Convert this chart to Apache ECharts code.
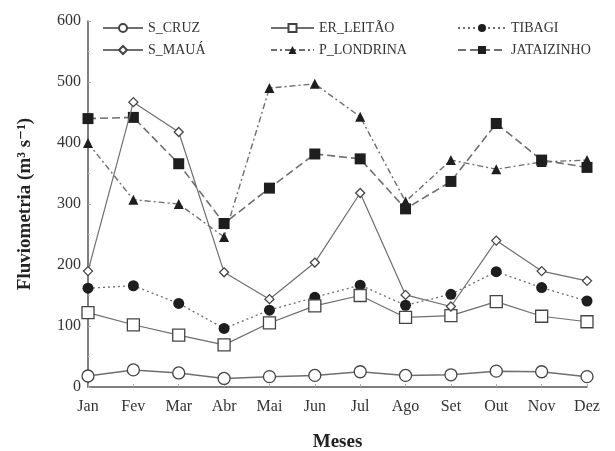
<!DOCTYPE html>
<html>
<head>
<meta charset="utf-8">
<script src="https://cdn.jsdelivr.net/npm/echarts@6/dist/echarts.min.js"></script>
<style>
  html, body { margin: 0; padding: 0; background: #fff; }
  #chart { width: 615px; height: 451px; }
</style>
</head>
<body>
<div id="chart"></div>
<script>
// Monthly mean discharge (m³/s) at six gauging stations
const months = ['Jan', 'Fev', 'Mar', 'Abr', 'Mai', 'Jun', 'Jul', 'Ago', 'Set', 'Out', 'Nov', 'Dez'];
const yTicks = [0, 100, 200, 300, 400, 500, 600];

const sCruz      = [18, 28, 23, 14, 17, 19, 25, 19, 20, 26, 25, 17];
const erLeitao   = [122, 102, 85, 69, 105, 133, 150, 114, 117, 140, 116, 107];
const tibagi     = [162, 166, 137, 96, 126, 147, 167, 134, 152, 189, 163, 141];
const sMaua      = [190, 467, 418, 188, 144, 204, 318, 151, 132, 240, 190, 174];
const pLondrina  = [400, 307, 300, 246, 490, 497, 443, 304, 372, 357, 369, 372];
const jataizinho = [440, 442, 366, 268, 326, 382, 374, 292, 337, 432, 372, 360];

const serif = '"Liberation Serif", "DejaVu Serif", serif';
const lineGray = '#6e6e6e';
const ink = '#1e1e1e';

function lineSeries(name, data, symbol, size, filled, lineType, width) {
  return {
    name: name,
    type: 'line',
    data: data,
    symbol: symbol,
    symbolSize: size,
    showAllSymbol: true,
    lineStyle: { color: lineGray, width: width, type: lineType },
    itemStyle: {
      color: filled ? ink : '#ffffff',
      borderColor: filled ? ink : '#444444',
      borderWidth: filled ? 0 : 1.3
    },
    emphasis: { disabled: true },
    z: filled ? 3 : 4
  };
}

const series = [
  lineSeries('S_CRUZ', sCruz, 'circle', 12, false, 'solid', 1.5),
  lineSeries('ER_LEITÃO', erLeitao, 'rect', 12, false, 'solid', 1.2),
  lineSeries('TIBAGI', tibagi, 'circle', 11, true, [2, 3], 1.3),
  lineSeries('S_MAUÁ', sMaua, 'diamond', 9, false, 'solid', 1.2),
  lineSeries('P_LONDRINA', pLondrina, 'triangle', 10, true, [6, 3, 2, 3], 1.4),
  lineSeries('JATAIZINHO', jataizinho, 'rect', 11, true, [8, 4], 1.6)
];

// one legend box per entry so the six entries sit in a 3x2 layout
const legendSpots = [
  { name: 'S_CRUZ', left: 102, top: 21, w: 40 },
  { name: 'S_MAUÁ', left: 102, top: 43, w: 40 },
  { name: 'ER_LEITÃO', left: 270, top: 21, w: 43 },
  { name: 'P_LONDRINA', left: 270, top: 43, w: 43 },
  { name: 'TIBAGI', left: 457, top: 21, w: 48 },
  { name: 'JATAIZINHO', left: 457, top: 43, w: 48 }
];
const legends = legendSpots.map(s => ({
  data: [s.name],
  left: s.left,
  top: s.top,
  itemWidth: s.w,
  itemHeight: 10,
  itemGap: 7,
  padding: 0,
  selectedMode: false,
  textStyle: { fontFamily: serif, fontSize: 14, color: '#333' }
}));

const chart = echarts.init(document.getElementById('chart'), null, { renderer: 'canvas' });
chart.setOption({
  animation: false,
  backgroundColor: '#ffffff',
  legend: legends,
  grid: { left: 88, right: 28, top: 21, bottom: 64, containLabel: false, outerBoundsMode: 'none' },
  xAxis: {
    type: 'category',
    data: months,
    boundaryGap: false,
    name: 'Meses',
    nameLocation: 'middle',
    nameGap: 46,
    nameTextStyle: { fontFamily: serif, fontSize: 19, fontWeight: 'bold', color: '#222' },
    axisLine: { lineStyle: { color: '#555', width: 1.5 } },
    axisTick: { show: true, inside: true, length: 3, lineStyle: { color: '#aaa' } },
    axisLabel: { fontFamily: serif, fontSize: 16, color: '#333', margin: 12 },
    splitLine: { show: false }
  },
  yAxis: {
    type: 'value',
    min: yTicks[0],
    max: yTicks[yTicks.length - 1],
    interval: 100,
    name: 'Fluviometria (m³ s⁻¹)',
    nameLocation: 'middle',
    nameGap: 53,
    nameTextStyle: { fontFamily: serif, fontSize: 19, fontWeight: 'bold', color: '#222' },
    axisLine: { show: true, lineStyle: { color: '#555', width: 1.5 } },
    axisTick: { show: true, inside: true, length: 3, lineStyle: { color: '#aaa' } },
    minorTick: { show: true, splitNumber: 2, length: 2, lineStyle: { color: '#bbb' } },
    axisLabel: { fontFamily: serif, fontSize: 16, color: '#333', margin: 7 },
    splitLine: { show: false }
  },
  series: series
});
</script>
</body>
</html>
